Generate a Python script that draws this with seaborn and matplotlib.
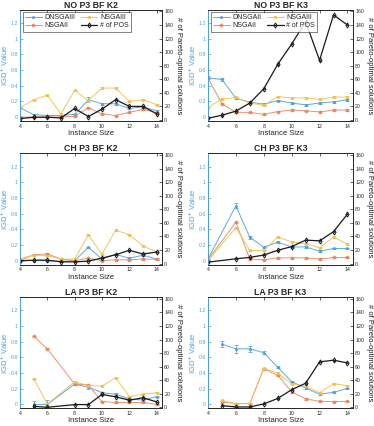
import numpy as np
import pandas as pd
import seaborn as sns
import matplotlib.pyplot as plt

# instance sizes
x_full = [4, 5, 6, 7, 8, 9, 10, 11, 12, 13, 14]
x_ch_k3 = [4, 6, 7, 8, 9, 10, 11, 12, 13, 14]
x_la_k2 = [5, 6, 8, 9, 10, 11, 12, 13, 14]
x_la_k3 = [5, 6, 7, 8, 9, 10, 11, 12, 13, 14]

# NO P3 BF K2
no_k2_dn = [0.12, 0.03, 0.02, 0.02, 0.035, 0.22, 0.17, 0.17, 0.11, 0.13, 0.08]
no_k2_dn_err = [0.01, 0.01, 0.01, 0.01, 0.01, 0.03, 0.01, 0.01, 0.01, 0.01, 0.01]
no_k2_n3 = [0.12, 0.22, 0.28, 0.04, 0.34, 0.21, 0.37, 0.37, 0.20, 0.22, 0.16]
no_k2_n2 = [0.0, 0.0, 0.0, 0.0, 0.01, 0.12, 0.04, 0.02, 0.06, 0.10, 0.055]
no_k2_pos = [2, 4, 4, 3, 17, 5, 16, 30, 20, 20, 9]

# NO P3 BF K3
no_k3_dn = [0.50, 0.48, 0.24, 0.19, 0.165, 0.21, 0.18, 0.155, 0.18, 0.195, 0.22]
no_k3_dn_err = [0.02, 0.02, 0.01, 0.01, 0.01, 0.01, 0.01, 0.01, 0.01, 0.01, 0.01]
no_k3_n3 = [0.12, 0.23, 0.25, 0.18, 0.15, 0.26, 0.245, 0.245, 0.225, 0.255, 0.255]
no_k3_n2 = [0.50, 0.17, 0.06, 0.06, 0.035, 0.07, 0.09, 0.08, 0.065, 0.09, 0.09]
no_k3_pos = [2.5, 7, 13, 25, 46, 82, 112, 145, 88, 155, 140]

# CH P3 BF K2
ch_k2_dn = [0.0, 0.0, 0.0, -0.01, 0.0, 0.17, 0.02, 0.08, 0.03, 0.07, 0.02]
ch_k2_dn_err = [0.01, 0.01, 0.01, 0.01, 0.01, 0.01, 0.01, 0.01, 0.01, 0.01, 0.01]
ch_k2_n3 = [0.025, 0.07, 0.065, 0.02, 0.02, 0.33, 0.08, 0.39, 0.33, 0.19, 0.11]
ch_k2_n2 = [0.0, 0.075, 0.085, 0.02, 0.0, 0.03, 0.0, 0.01, 0.01, 0.02, 0.015]
ch_k2_pos = [4, 5, 5, 2.5, 2.5, 3.5, 8, 13, 19.5, 14, 17]

# CH P3 BF K3
ch_k3_dn = [0.02, 0.70, 0.30, 0.17, 0.235, 0.175, 0.175, 0.12, 0.155, 0.155]
ch_k3_dn_err = [0.01, 0.03, 0.02, 0.01, 0.01, 0.01, 0.01, 0.01, 0.01, 0.01]
ch_k3_n3 = [0.0, 0.42, 0.13, 0.13, 0.30, 0.24, 0.215, 0.165, 0.30, 0.21]
ch_k3_n2 = [0.01, 0.49, 0.02, 0.01, 0.035, 0.035, 0.035, 0.02, 0.04, 0.04]
ch_k3_pos = [2, 7, 9, 12.5, 19.5, 25, 34.5, 33.5, 47, 73]

# LA P3 BF K2
la_k2_dn = [0.0, 0.0, 0.26, 0.22, 0.15, 0.13, 0.07, 0.055, 0.10]
la_k2_dn_err = [0.04, 0.05, 0.01, 0.02, 0.01, 0.01, 0.01, 0.01, 0.01]
la_k2_n3 = [0.33, 0.005, 0.29, 0.24, 0.235, 0.34, 0.10, 0.13, 0.15]
la_k2_n2 = [0.87, 0.71, 0.26, 0.25, 0.035, 0.025, 0.025, 0.025, 0.0]
la_k2_pos = [1.5, 0, 4, 4, 19, 15.5, 10.5, 14, 8]

# LA P3 BF K3
la_k3_dn = [0.77, 0.71, 0.71, 0.66, 0.475, 0.29, 0.21, 0.13, 0.155, 0.205]
la_k3_dn_err = [0.04, 0.05, 0.035, 0.02, 0.01, 0.01, 0.01, 0.01, 0.01, 0.01]
la_k3_n3 = [0.05, 0.01, 0.01, 0.46, 0.40, 0.265, 0.23, 0.15, 0.265, 0.24]
la_k3_n2 = [0.03, 0.01, 0.01, 0.455, 0.37, 0.16, 0.07, 0.04, 0.035, 0.04]
la_k3_pos = [2.5, 0.5, 0.5, 5, 13, 26, 35.5, 67, 69.5, 65.5]

titles = ['NO P3 BF K2', 'NO P3 BF K3', 'CH P3 BF K2', 'CH P3 BF K3', 'LA P3 BF K2', 'LA P3 BF K3']

BLUE = '#4da0dc'
ORANGE = '#e8865e'
YELLOW = '#f2c04a'
BLACK = '#1a1a1a'

sns.set_style('white')
plt.rcParams['font.family'] = ['Liberation Sans', 'DejaVu Sans']

fig = plt.figure(figsize=(3.74, 4.26), dpi=100)

lefts = [0.0535, 0.556]
bottoms = [0.716, 0.379, 0.0415]
w = [0.38, 0.388]
h = 0.261

panels = [
    (x_full, no_k2_dn, no_k2_dn_err, no_k2_n3, no_k2_n2, no_k2_pos, 'DNSGAIII'),
    (x_full, no_k3_dn, no_k3_dn_err, no_k3_n3, no_k3_n2, no_k3_pos, 'DNSGAII'),
    (x_full, ch_k2_dn, ch_k2_dn_err, ch_k2_n3, ch_k2_n2, ch_k2_pos, None),
    (x_ch_k3, ch_k3_dn, ch_k3_dn_err, ch_k3_n3, ch_k3_n2, ch_k3_pos, None),
    (x_la_k2, la_k2_dn, la_k2_dn_err, la_k2_n3, la_k2_n2, la_k2_pos, None),
    (x_la_k3, la_k3_dn, la_k3_dn_err, la_k3_n3, la_k3_n2, la_k3_pos, None),
]

for i, (x, dn, dn_err, n3, n2, pos, dn_label) in enumerate(panels):
    r, c = divmod(i, 2)
    ax = fig.add_axes([lefts[c], bottoms[r], w[c], h])
    df = pd.DataFrame({'size': x, 'dn': dn, 'n3': n3, 'n2': n2, 'pos': pos})

    handles = []
    for col, color, marker in [('dn', BLUE, '*'), ('n2', ORANGE, 'o'), ('n3', YELLOW, 's')]:
        sns.lineplot(data=df, x='size', y=col, ax=ax, color=color, marker=marker,
                     markersize=2.0, markeredgewidth=0.6, markeredgecolor=color,
                     linewidth=0.7, alpha=0.9)
        handles.append(ax.get_lines()[-1])
        err = dn_err if col == 'dn' else [0.008] * len(x)
        ax.errorbar(x, df[col], yerr=err, fmt='none', ecolor=color,
                    elinewidth=0.6, capsize=1.3, capthick=0.6, alpha=0.9)

    ax.set_xlim(4, 14.4)
    ax.set_ylim(-0.05, 1.37)
    ax.set_xticks([4, 6, 8, 10, 12, 14])
    ax.set_yticks([0, 0.2, 0.4, 0.6, 0.8, 1.0, 1.2])
    ax.set_yticklabels(['0', '0.2', '0.4', '0.6', '0.8', '1', '1.2'])
    ax.tick_params(axis='x', direction='in', length=2, width=0.5, labelsize=3.8,
                   pad=2, colors='#262626', top=True)
    ax.tick_params(axis='y', direction='in', length=2, width=0.5, labelsize=3.8,
                   pad=1.5, colors=BLUE)
    ax.set_xlabel('Instance Size', fontsize=5.5, color='#262626', labelpad=1)
    ax.set_ylabel('IGD$^{+}$ Value', fontsize=5.5, color=BLUE)
    ax.yaxis.set_label_coords(-0.068, 0.5)
    ax.set_title(titles[i], fontsize=6.3, fontweight='bold', pad=1.5)

    ax2 = ax.twinx()
    sns.lineplot(data=df, x='size', y='pos', ax=ax2, color=BLACK, marker='d',
                 markersize=2.6, markerfacecolor='none', markeredgecolor=BLACK,
                 markeredgewidth=0.7, linewidth=0.9)
    ax2.errorbar(x, pos, yerr=[0.5] * len(x), fmt='none', ecolor=BLACK,
                 elinewidth=0.5, capsize=1.0, capthick=0.5)
    handles.append(ax2.get_lines()[0])
    ax2.set_ylim(-1.5, 162.5)
    ax2.set_yticks(range(0, 161, 20))
    ax2.tick_params(axis='y', direction='in', length=2, width=0.5, labelsize=3.8,
                    pad=1.5, colors='#262626')
    ax2.set_ylabel('# of Pareto-optimal solutions', fontsize=5.5, color=BLACK,
                   rotation=270, va='bottom', labelpad=1)
    ax2.set_xlabel('')

    for a in (ax, ax2):
        for s in a.spines.values():
            s.set_linewidth(0.6)
            s.set_color('#262626')
        a.spines['left'].set_color(BLUE)

    if dn_label is not None:
        leg = ax2.legend(handles, [dn_label, 'NSGAII', 'NSGAIII', '# of POS'],
                         ncol=2, loc='upper left', bbox_to_anchor=(0.02, 0.98),
                         fontsize=5, frameon=True, fancybox=False,
                         borderpad=0.3, handlelength=2.4, handletextpad=0.4,
                         columnspacing=0.8, labelspacing=0.2, borderaxespad=0)
        leg.get_frame().set_edgecolor('#262626')
        leg.get_frame().set_linewidth(0.5)

fig.savefig('out.png', dpi=100)
